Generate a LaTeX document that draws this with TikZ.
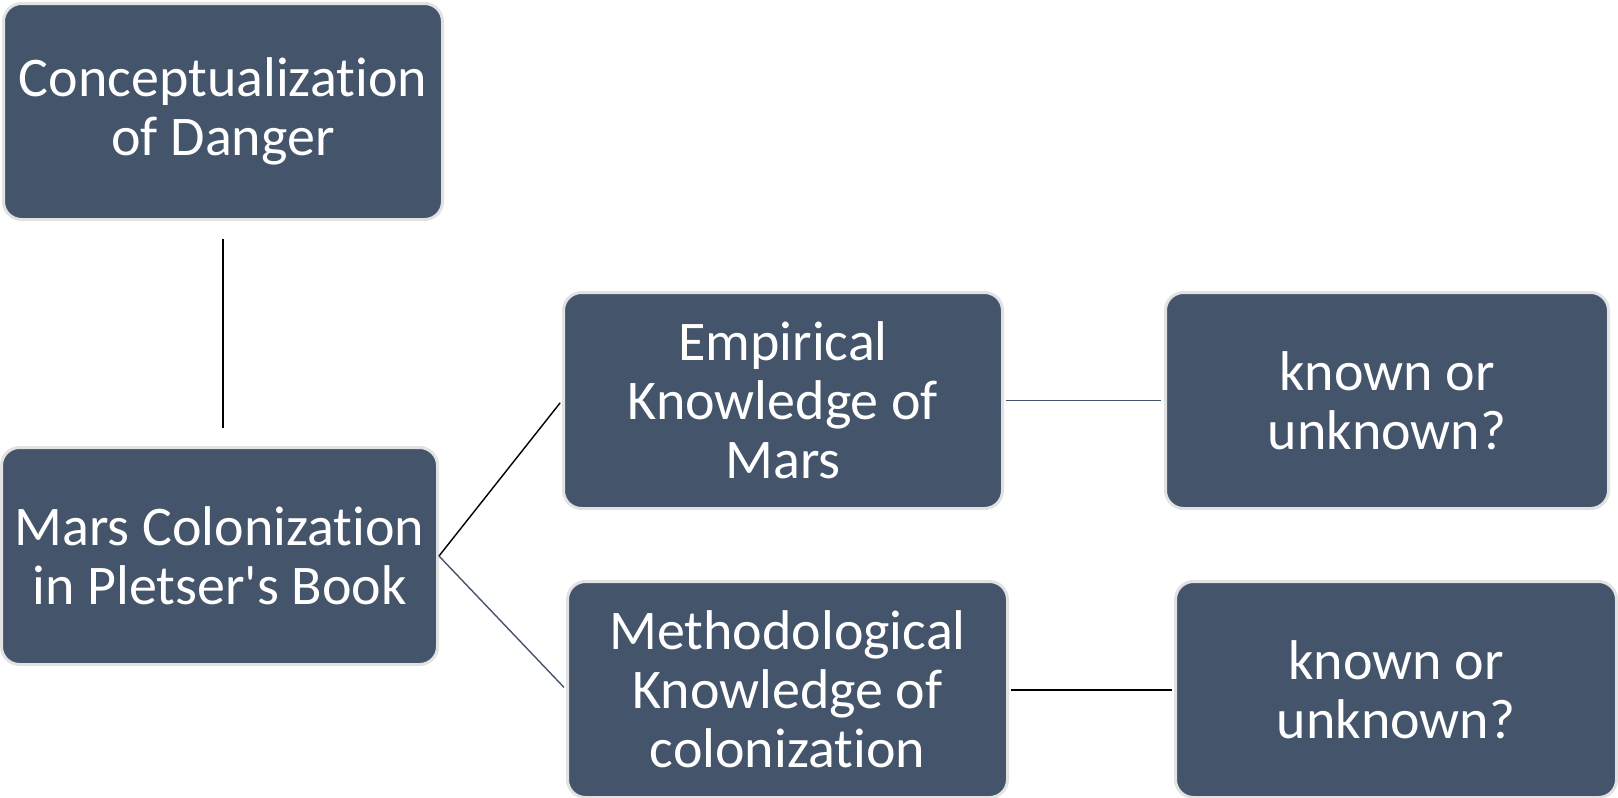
\documentclass[tikz,border=0pt]{standalone}
\usepackage{fontspec}
\setmainfont{Carlito}[Ligatures={NoCommon,NoContextual}, RawFeature={-liga;-clig;-dlig}]
\definecolor{boxfill}{HTML}{44546A}
\definecolor{boxedge}{HTML}{E2E2E2}
\begin{document}
\begin{tikzpicture}[x=1pt,y=1pt,
  box/.style={draw=boxedge, line width=3pt, fill=boxfill, rounded corners=18pt,
    text=white, align=center, inner sep=0pt,
    font=\fontsize{56}{59}\selectfont},
  link/.style={line width=1.4pt}]
\useasboundingbox (0,0) rectangle (1618,-798);
\node[box, minimum width=439pt, minimum height=216pt] (concept) at (223,-111.5) {Conceptualization\\of Danger};
\node[box, minimum width=436pt, minimum height=217pt] (mars) at (219.5,-556) {Mars Colonization\\in Pletser\textquotesingle s Book};
\node[box, minimum width=439pt, minimum height=216pt] (emp) at (783,-400.5) {Empirical\\Knowledge of\\Mars};
\node[box, minimum width=440pt, minimum height=216pt] (meth) at (787.5,-689.5) {Methodological\\Knowledge of\\colonization};
\node[box, minimum width=443pt, minimum height=216pt] (k1) at (1387,-400.5) {known or\\unknown?};
\node[box, minimum width=441pt, minimum height=216pt] (k2) at (1396,-689.5) {known or\\unknown?};
\coordinate (vtop) at ([yshift=-18pt]concept.south);
\coordinate (vbot) at ([yshift=18pt]vtop |- mars.north);
\draw[link, black] (vtop) -- (vbot);
\draw[link, black, shorten >=3pt] (mars.east) -- (emp.west);
\draw[link, boxfill, shorten >=3pt] (mars.east) -- (meth.west);
\draw[link, boxfill, shorten <=2pt, shorten >=3pt] (emp.east) -- (k1.west);
\draw[link, black, line width=2pt, shorten <=2pt, shorten >=2pt] (meth.east) -- (k2.west);
\end{tikzpicture}
\end{document}
